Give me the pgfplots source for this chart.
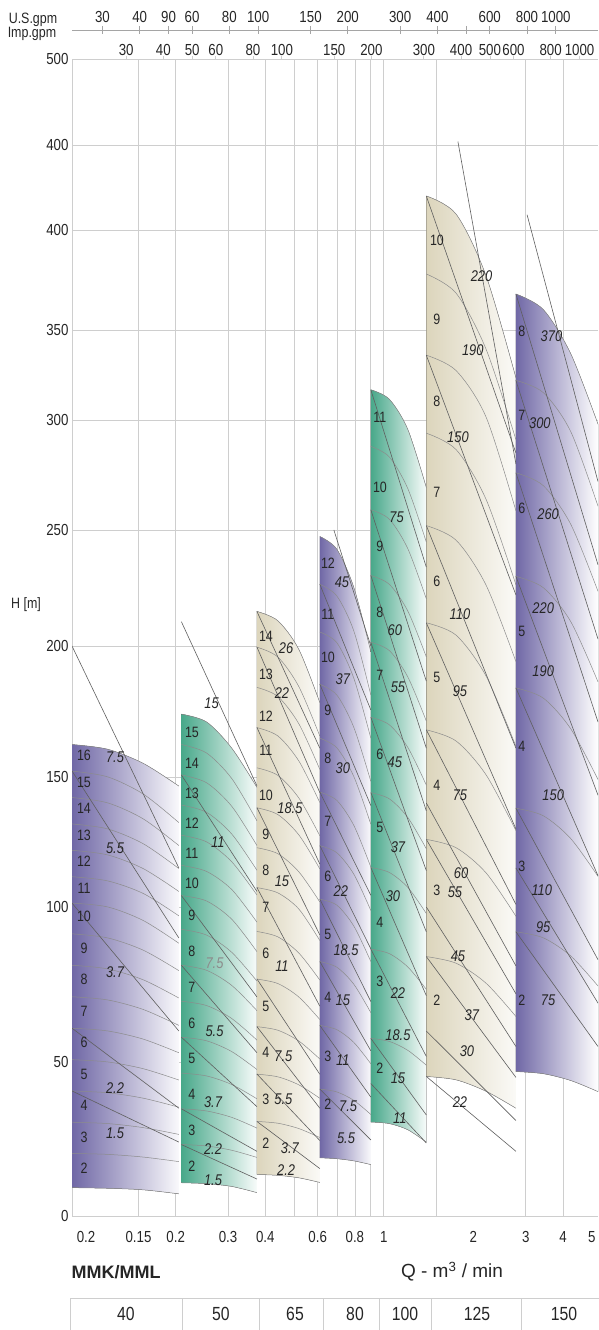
\documentclass[border=0pt]{standalone}
\usepackage{fontspec}
\setmainfont{Liberation Sans}[FakeStretch=0.83]
\newfontfamily\plainsans{Liberation Sans}
\usepackage{pgfplots}
\pgfplotsset{compat=1.18}
\usepgfplotslibrary{fillbetween}

\definecolor{pur}{RGB}{112,104,166}
\definecolor{grn}{RGB}{72,168,138}
\definecolor{bei}{RGB}{220,213,188}
\definecolor{gridc}{RGB}{206,206,206}
\definecolor{labc}{RGB}{38,38,38}
\definecolor{crv}{RGB}{140,140,140}
\definecolor{pwc}{RGB}{95,95,95}

\pgfplotsset{
  stg/.style={smooth, no markers, draw=crv, line width=0.5pt},
  pw/.style={no markers, draw=pwc, line width=0.6pt},
  % the H axis of the original is broken: H [m] is mapped piecewise onto the drawn height
  hscale/.style={
    y filter/.code={\pgfmathparse{##1<50?##1*3.08:(##1<100?154+(##1-50)*3.1:(##1<150?309+(##1-100)*2.6:(##1<200?439+(##1-150)*2.62:(##1<250?570+(##1-200)*2.32:(##1<300?686+(##1-250)*2.2:(##1<350?796+(##1-300)*1.8:(##1<400?886+(##1-350)*2:(##1<450?986+(##1-400)*1.7:1071+(##1-450)*1.72))))))))}},
  },
}

\begin{document}
\begin{tikzpicture}[x=1pt,y=1pt]

\begin{axis}[
  at={(0pt,0pt)}, anchor=south west,
  scale only axis, width=526pt, height=1157pt,
  set layers,
  hscale,
  xmode=log, xmin=0.0897, xmax=5.245,
  ymin=0, ymax=1157,
  axis lines*=left,
  axis line style={draw=gridc, line width=0.8pt, -},
  xtick={0.1,0.15,0.2,0.3,0.4,0.6,0.8,1,2,3,4,5},
  xticklabels={0.2,0.15,0.2,0.3,0.4,0.6,0.8,1,2,3,4,5},
  extra x ticks={0.15,0.2,0.3,0.4,0.5,0.6,0.7,0.8,0.9,1,1.5,3,4},
  extra x tick labels={,,,,,,,,,,,,},
  extra x tick style={grid=major},
  ytick={0,154,309,439,570,686,796,886,986,1071,1157},
  yticklabels={0,50,100,150,200,250,300,350,400,400,500},
  ymajorgrids,
  grid style={draw=gridc, line width=0.7pt},
  major tick length=0pt, xminorticks=false,
  tick label style={font=\fontsize{16}{16}\selectfont, text=labc},
  xticklabel style={yshift=-12pt},
  every node near coord/.style={anchor=center, text=labc},
]

% ---- 40 ----
\addplot[stg, name path=a1] coordinates {(0.0897,9.2)(0.11815,9.0)(0.15563,8.5)(0.205,7.2)};
\addplot[stg, name path=a16] coordinates {(0.0897,162.4)(0.11815,160.6)(0.15563,155.2)(0.205,146.5)};
\addplot[left color=pur, right color=pur!4, draw=none] fill between[of=a16 and a1];
\addplot[stg] coordinates {(0.0897,20.3)(0.11815,20.01)(0.15563,19.13)(0.205,17.66)};
\addplot[stg] coordinates {(0.0897,30.45)(0.11815,30.01)(0.15563,28.69)(0.205,26.49)};
\addplot[stg] coordinates {(0.0897,40.6)(0.11815,40.01)(0.15563,38.25)(0.205,35.32)};
\addplot[stg] coordinates {(0.0897,50.75)(0.11815,50.02)(0.15563,47.82)(0.205,44.15)};
\addplot[stg] coordinates {(0.0897,60.9)(0.11815,60.02)(0.15563,57.38)(0.205,52.98)};
\addplot[stg] coordinates {(0.0897,71.05)(0.11815,70.02)(0.15563,66.94)(0.205,61.81)};
\addplot[stg] coordinates {(0.0897,81.2)(0.11815,80.03)(0.15563,76.51)(0.205,70.64)};
\addplot[stg] coordinates {(0.0897,91.35)(0.11815,90.03)(0.15563,86.07)(0.205,79.47)};
\addplot[stg] coordinates {(0.0897,101.5)(0.11815,100.03)(0.15563,95.64)(0.205,88.31)};
\addplot[stg] coordinates {(0.0897,111.65)(0.11815,110.04)(0.15563,105.2)(0.205,97.14)};
\addplot[stg] coordinates {(0.0897,121.8)(0.11815,120.04)(0.15563,114.76)(0.205,105.97)};
\addplot[stg] coordinates {(0.0897,131.95)(0.11815,130.04)(0.15563,124.33)(0.205,114.8)};
\addplot[stg] coordinates {(0.0897,142.1)(0.11815,140.05)(0.15563,133.89)(0.205,123.63)};
\addplot[stg] coordinates {(0.0897,152.25)(0.11815,150.05)(0.15563,143.45)(0.205,132.46)};

% ---- 50 ----
\addplot[stg, name path=b1] coordinates {(0.209,10.8)(0.254,10.5)(0.3086,9.6)(0.375,7.6)};
\addplot[stg, name path=b15] coordinates {(0.209,174)(0.254,171)(0.3086,161)(0.375,146)};
\addplot[left color=grn, right color=grn!4, draw=none] fill between[of=b15 and b1];
\addplot[stg] coordinates {(0.209,23.2)(0.254,22.74)(0.3086,21.34)(0.375,19.02)};
\addplot[stg] coordinates {(0.209,34.8)(0.254,34.1)(0.3086,32.02)(0.375,28.54)};
\addplot[stg] coordinates {(0.209,46.4)(0.254,45.47)(0.3086,42.69)(0.375,38.05)};
\addplot[stg] coordinates {(0.209,58)(0.254,56.84)(0.3086,53.36)(0.375,47.56)};
\addplot[stg] coordinates {(0.209,69.6)(0.254,68.21)(0.3086,64.03)(0.375,57.07)};
\addplot[stg] coordinates {(0.209,81.2)(0.254,79.58)(0.3086,74.7)(0.375,66.58)};
\addplot[stg] coordinates {(0.209,92.8)(0.254,90.94)(0.3086,85.38)(0.375,76.1)};
\addplot[stg] coordinates {(0.209,104.4)(0.254,102.31)(0.3086,96.05)(0.375,85.61)};
\addplot[stg] coordinates {(0.209,116)(0.254,113.68)(0.3086,106.72)(0.375,95.12)};
\addplot[stg] coordinates {(0.209,127.6)(0.254,125.05)(0.3086,117.39)(0.375,104.63)};
\addplot[stg] coordinates {(0.209,139.2)(0.254,136.42)(0.3086,128.06)(0.375,114.14)};
\addplot[stg] coordinates {(0.209,150.8)(0.254,147.78)(0.3086,138.74)(0.375,123.66)};
\addplot[stg] coordinates {(0.209,162.4)(0.254,159.15)(0.3086,149.41)(0.375,133.17)};

% ---- 65 ----
\addplot[stg, name path=c1] coordinates {(0.375,13.5)(0.441,13.2)(0.5187,12.4)(0.61,10.9)};
\addplot[stg, name path=c14] coordinates {(0.375,214.9)(0.441,210.84)(0.5187,198.66)(0.61,178.37)};
\addplot[left color=bei, right color=bei!12, draw=none] fill between[of=c14 and c1];
\addplot[stg] coordinates {(0.375,30.7)(0.441,30.12)(0.5187,28.38)(0.61,25.48)};
\addplot[stg] coordinates {(0.375,46.05)(0.441,45.18)(0.5187,42.57)(0.61,38.22)};
\addplot[stg] coordinates {(0.375,61.4)(0.441,60.24)(0.5187,56.76)(0.61,50.96)};
\addplot[stg] coordinates {(0.375,76.75)(0.441,75.3)(0.5187,70.95)(0.61,63.7)};
\addplot[stg] coordinates {(0.375,92.1)(0.441,90.36)(0.5187,85.14)(0.61,76.44)};
\addplot[stg] coordinates {(0.375,107.45)(0.441,105.42)(0.5187,99.33)(0.61,89.18)};
\addplot[stg] coordinates {(0.375,122.8)(0.441,120.48)(0.5187,113.52)(0.61,101.92)};
\addplot[stg] coordinates {(0.375,138.15)(0.441,135.54)(0.5187,127.71)(0.61,114.66)};
\addplot[stg] coordinates {(0.375,153.5)(0.441,150.6)(0.5187,141.9)(0.61,127.41)};
\addplot[stg] coordinates {(0.375,168.85)(0.441,165.66)(0.5187,156.09)(0.61,140.15)};
\addplot[stg] coordinates {(0.375,184.2)(0.441,180.72)(0.5187,170.28)(0.61,152.89)};
\addplot[stg] coordinates {(0.375,199.55)(0.441,195.78)(0.5187,184.47)(0.61,165.63)};

% ---- 80 ----
\addplot[stg, name path=d1] coordinates {(0.61,18.9)(0.6957,18.6)(0.7935,17.9)(0.905,16.7)};
\addplot[stg, name path=d12] coordinates {(0.61,247.2)(0.6957,241.71)(0.7935,225.23)(0.905,197.76)};
\addplot[left color=pur, right color=pur!4, draw=none] fill between[of=d12 and d1];
\addplot[stg] coordinates {(0.61,41.2)(0.6957,40.28)(0.7935,37.54)(0.905,32.96)};
\addplot[stg] coordinates {(0.61,61.8)(0.6957,60.43)(0.7935,56.31)(0.905,49.44)};
\addplot[stg] coordinates {(0.61,82.4)(0.6957,80.57)(0.7935,75.08)(0.905,65.92)};
\addplot[stg] coordinates {(0.61,103)(0.6957,100.71)(0.7935,93.84)(0.905,82.4)};
\addplot[stg] coordinates {(0.61,123.6)(0.6957,120.85)(0.7935,112.61)(0.905,98.88)};
\addplot[stg] coordinates {(0.61,144.2)(0.6957,141)(0.7935,131.38)(0.905,115.36)};
\addplot[stg] coordinates {(0.61,164.8)(0.6957,161.14)(0.7935,150.15)(0.905,131.84)};
\addplot[stg] coordinates {(0.61,185.4)(0.6957,181.28)(0.7935,168.92)(0.905,148.32)};
\addplot[stg] coordinates {(0.61,206)(0.6957,201.42)(0.7935,187.69)(0.905,164.8)};
\addplot[stg] coordinates {(0.61,226.6)(0.6957,221.56)(0.7935,206.46)(0.905,181.28)};

% ---- 100 ----
\addplot[stg, name path=e1] coordinates {(0.905,30.5)(1.0442,30)(1.2048,28)(1.39,24)};
\addplot[stg, name path=e11] coordinates {(0.905,316.8)(1.0442,311.52)(1.2048,295.68)(1.39,269.28)};
\addplot[left color=grn, right color=grn!4, draw=none] fill between[of=e11 and e1];
\addplot[stg] coordinates {(0.905,57.6)(1.0442,56.64)(1.2048,53.76)(1.39,48.96)};
\addplot[stg] coordinates {(0.905,86.4)(1.0442,84.96)(1.2048,80.64)(1.39,73.44)};
\addplot[stg] coordinates {(0.905,115.2)(1.0442,113.28)(1.2048,107.52)(1.39,97.92)};
\addplot[stg] coordinates {(0.905,144)(1.0442,141.6)(1.2048,134.4)(1.39,122.4)};
\addplot[stg] coordinates {(0.905,172.8)(1.0442,169.92)(1.2048,161.28)(1.39,146.88)};
\addplot[stg] coordinates {(0.905,201.6)(1.0442,198.24)(1.2048,188.16)(1.39,171.36)};
\addplot[stg] coordinates {(0.905,230.4)(1.0442,226.56)(1.2048,215.04)(1.39,195.84)};
\addplot[stg] coordinates {(0.905,259.2)(1.0442,254.88)(1.2048,241.92)(1.39,220.32)};
\addplot[stg] coordinates {(0.905,288)(1.0442,283.2)(1.2048,268.8)(1.39,244.8)};

% ---- 125 ----
\addplot[stg, name path=f1] coordinates {(1.39,45.3)(1.7513,44.2)(2.2065,40.5)(2.78,35)};
\addplot[stg, name path=f10] coordinates {(1.39,420)(1.7513,409.26)(2.2065,377.07)(2.78,323.4)};
\addplot[left color=bei, right color=bei!12, draw=none] fill between[of=f10 and f1];
\addplot[stg] coordinates {(1.39,84)(1.7513,81.85)(2.2065,75.41)(2.78,64.68)};
\addplot[stg] coordinates {(1.39,126)(1.7513,122.78)(2.2065,113.12)(2.78,97.02)};
\addplot[stg] coordinates {(1.39,168)(1.7513,163.71)(2.2065,150.83)(2.78,129.36)};
\addplot[stg] coordinates {(1.39,210)(1.7513,204.63)(2.2065,188.53)(2.78,161.7)};
\addplot[stg] coordinates {(1.39,252)(1.7513,245.56)(2.2065,226.24)(2.78,194.04)};
\addplot[stg] coordinates {(1.39,294)(1.7513,286.49)(2.2065,263.95)(2.78,226.38)};
\addplot[stg] coordinates {(1.39,336)(1.7513,327.41)(2.2065,301.65)(2.78,258.72)};
\addplot[stg] coordinates {(1.39,378)(1.7513,368.34)(2.2065,339.36)(2.78,291.06)};

% ---- 150 ----
\addplot[stg, name path=g1] coordinates {(2.78,46.9)(3.4352,46.2)(4.2449,44)(5.245,40.4)};
\addplot[stg, name path=g8] coordinates {(2.78,368)(3.4352,360.23)(4.2449,336.93)(5.245,298.08)};
\addplot[left color=pur, right color=white, draw=none] fill between[of=g8 and g1];
\addplot[stg] coordinates {(2.78,92)(3.4352,90.06)(4.2449,84.23)(5.245,74.52)};
\addplot[stg] coordinates {(2.78,138)(3.4352,135.09)(4.2449,126.35)(5.245,111.78)};
\addplot[stg] coordinates {(2.78,184)(3.4352,180.12)(4.2449,168.46)(5.245,149.04)};
\addplot[stg] coordinates {(2.78,230)(3.4352,225.14)(4.2449,210.58)(5.245,186.3)};
\addplot[stg] coordinates {(2.78,276)(3.4352,270.17)(4.2449,252.69)(5.245,223.56)};
\addplot[stg] coordinates {(2.78,322)(3.4352,315.2)(4.2449,294.81)(5.245,260.82)};

% ---- power lines (kW) ----
\addplot[pw] coordinates {(0.0897,200)(0.205,115)};
\addplot[pw] coordinates {(0.0897,152.3)(0.205,90)};
\addplot[pw] coordinates {(0.0897,101.5)(0.205,60)};
\addplot[pw] coordinates {(0.0897,60.9)(0.205,35)};
\addplot[pw] coordinates {(0.0897,40.6)(0.205,24)};

\addplot[pw] coordinates {(0.209,210.5)(0.375,146.6)};
\addplot[pw] coordinates {(0.209,150.8)(0.375,106)};
\addplot[pw] coordinates {(0.209,104.4)(0.375,71)};
\addplot[pw] coordinates {(0.209,81.2)(0.375,53)};
\addplot[pw] coordinates {(0.209,58)(0.375,35.5)};
\addplot[pw] coordinates {(0.209,34.8)(0.375,21)};
\addplot[pw] coordinates {(0.209,23.2)(0.375,12)};

\addplot[pw] coordinates {(0.375,214.9)(0.61,161)};
\addplot[pw] coordinates {(0.375,199.6)(0.61,144)};
\addplot[pw] coordinates {(0.375,168.9)(0.61,116.5)};
\addplot[pw] coordinates {(0.375,138.2)(0.61,91)};
\addplot[pw] coordinates {(0.375,107.5)(0.61,68)};
\addplot[pw] coordinates {(0.375,76.8)(0.61,46)};
\addplot[pw] coordinates {(0.375,61.4)(0.61,35)};
\addplot[pw] coordinates {(0.375,46.1)(0.61,24.5)};
\addplot[pw] coordinates {(0.375,30.7)(0.61,15.4)};

\addplot[pw] coordinates {(0.68,250)(0.905,200)};
\addplot[pw] coordinates {(0.61,226.6)(0.905,175.6)};
\addplot[pw] coordinates {(0.61,185.4)(0.905,139)};
\addplot[pw] coordinates {(0.61,144.2)(0.905,104.5)};
\addplot[pw] coordinates {(0.61,123.6)(0.905,86.5)};
\addplot[pw] coordinates {(0.61,103)(0.905,69.5)};
\addplot[pw] coordinates {(0.61,82.4)(0.905,53.6)};
\addplot[pw] coordinates {(0.61,61.8)(0.905,38.6)};
\addplot[pw] coordinates {(0.61,41.2)(0.905,24.7)};

\addplot[pw] coordinates {(0.905,316.8)(1.39,234)};
\addplot[pw] coordinates {(0.905,259.2)(1.39,186.6)};
\addplot[pw] coordinates {(0.905,230.4)(1.39,161)};
\addplot[pw] coordinates {(0.905,201.6)(1.39,137)};
\addplot[pw] coordinates {(0.905,172.8)(1.39,114)};
\addplot[pw] coordinates {(0.905,144)(1.39,92)};
\addplot[pw] coordinates {(0.905,115.2)(1.39,71.4)};
\addplot[pw] coordinates {(0.905,86.4)(1.39,51.8)};
\addplot[pw] coordinates {(0.905,57.6)(1.39,32.8)};
\addplot[pw] coordinates {(0.905,43)(1.39,23.7)};

\addplot[pw] coordinates {(1.775,452)(2.78,280)};
\addplot[pw] coordinates {(1.39,420)(2.78,285)};
\addplot[pw] coordinates {(1.39,336)(2.78,222)};
\addplot[pw] coordinates {(1.39,252)(2.78,161)};
\addplot[pw] coordinates {(1.39,210)(2.78,130)};
\addplot[pw] coordinates {(1.39,168)(2.78,101)};
\addplot[pw] coordinates {(1.39,140)(2.78,81)};
\addplot[pw] coordinates {(1.39,126)(2.78,72)};
\addplot[pw] coordinates {(1.39,100)(2.78,55)};
\addplot[pw] coordinates {(1.39,84)(2.78,45)};
\addplot[pw] coordinates {(1.39,60)(2.78,31)};
\addplot[pw] coordinates {(1.39,45.3)(2.78,21)};

\addplot[pw] coordinates {(3.03,409)(5.245,272)};
\addplot[pw] coordinates {(2.78,368)(5.245,235)};
\addplot[pw] coordinates {(2.78,322)(5.245,203)};
\addplot[pw] coordinates {(2.78,276)(5.245,171)};
\addplot[pw] coordinates {(2.78,230)(5.245,143)};
\addplot[pw] coordinates {(2.78,184)(5.245,112)};
\addplot[pw] coordinates {(2.78,138)(5.245,83)};
\addplot[pw] coordinates {(2.78,115)(5.245,69)};
\addplot[pw] coordinates {(2.78,92)(5.245,55)};

% ---- stage numbers ----
\addplot[draw=none, nodes near coords, point meta=explicit symbolic,
  every node near coord/.append style={font=\fontsize{15}{15}\selectfont}]
  table[x=q, y=h, meta=t, row sep=\\] {
q h t\\
0.0984 158.2 16\\ 0.0984 148 15\\ 0.0984 137.8 14\\ 0.0984 127.6 13\\
0.0984 117.4 12\\ 0.0984 107.2 11\\ 0.0984 97 10\\ 0.0984 86.8 9\\
0.0984 76.6 8\\ 0.0984 66.4 7\\ 0.0984 56.2 6\\ 0.0984 46 5\\
0.0984 35.8 4\\ 0.0984 25.6 3\\ 0.0984 15.4 2\\
0.2268 167 15\\ 0.2268 155.4 14\\ 0.2268 143.8 13\\ 0.2268 132.2 12\\
0.2268 120.6 11\\ 0.2268 109 10\\ 0.2268 97.4 9\\ 0.2268 85.8 8\\
0.2268 74.2 7\\ 0.2268 62.6 6\\ 0.2268 51 5\\ 0.2268 39.4 4\\
0.2268 27.8 3\\ 0.2268 16.2 2\\
0.402 204 14\\ 0.402 189 13\\ 0.402 173 12\\ 0.402 160 11\\
0.402 143 10\\ 0.402 128 9\\ 0.402 114 8\\ 0.402 100 7\\
0.402 85 6\\ 0.402 68 5\\ 0.402 53 4\\ 0.402 38 3\\ 0.402 23.5 2\\
0.6495 235.5 12\\ 0.6495 213.5 11\\ 0.6495 195.8 10\\ 0.6495 175.3 9\\
0.6495 157.3 8\\ 0.6495 133 7\\ 0.6495 111.7 6\\ 0.6495 91.3 5\\
0.6495 71 4\\ 0.6495 51.8 3\\ 0.6495 36.4 2\\
0.971 301.4 11\\ 0.971 269.5 10\\ 0.971 243 9\\ 0.971 214.7 8\\
0.971 188.9 7\\ 0.971 158.8 6\\ 0.971 130.8 5\\ 0.971 95.2 4\\
0.971 76.1 3\\ 0.971 48 2\\
1.509 394.6 10\\ 1.509 355.5 9\\ 1.509 310.6 8\\ 1.509 267 7\\
1.509 227.7 6\\ 1.509 188 5\\ 1.509 146.6 4\\ 1.509 106.3 3\\ 1.509 69.8 2\\
2.912 349.1 8\\ 2.912 302.4 7\\ 2.912 259.7 6\\ 2.912 206.1 5\\
2.912 161.6 4\\ 2.912 115.5 3\\ 2.912 70 2\\
};

% ---- motor power labels ----
\addplot[draw=none, nodes near coords, point meta=explicit symbolic,
  every node near coord/.append style={font=\itshape\fontsize{15.5}{15.5}\selectfont}]
  table[x=q, y=h, meta=t, row sep=\\] {
q h t\\
0.1251 157.5 7.5\\ 0.1251 122.5 5.5\\ 0.1251 79 3.7\\ 0.1251 41.5 2.2\\ 0.1251 27 1.5\\
0.264 178 15\\ 0.277 125 11\\ 0.267 37 3.7\\ 0.27 60 5.5\\ 0.267 21.6 2.2\\ 0.267 11.7 1.5\\
0.47 199 26\\ 0.455 182 22\\ 0.484 138 18.5\\ 0.455 110 15\\ 0.455 81 11\\
0.46 52 7.5\\ 0.46 38 5.5\\ 0.484 22 3.7\\ 0.47 15 2.2\\
0.724 227.6 45\\ 0.729 187.4 37\\ 0.729 153.4 30\\ 0.718 106.3 22\\ 0.747 86.1 18.5\\
0.729 70 15\\ 0.729 50.5 11\\ 0.759 35.7 7.5\\ 0.747 25.3 5.5\\
1.105 255.7 75\\ 1.09 207 60\\ 1.116 184.4 55\\ 1.09 155.7 45\\ 1.116 123 37\\
1.074 104.2 30\\ 1.116 72.3 22\\ 1.116 58.7 18.5\\ 1.116 44.8 15\\ 1.133 31.8 11\\
2.131 376.8 220\\ 1.992 339 190\\ 1.776 292.3 150\\ 1.803 213.8 110\\ 1.803 182.8 95\\
1.803 142.9 75\\ 1.818 113.2 60\\ 1.735 105.6 55\\ 1.776 84 45\\ 1.977 65.2 37\\
1.903 53.5 30\\ 1.803 37 22\\
3.659 346.5 370\\ 3.345 298.4 300\\ 3.567 257.3 260\\ 3.433 216.1 220\\ 3.433 190.5 190\\
3.709 142.9 150\\ 3.395 106.5 110\\ 3.433 93.6 95\\ 3.567 70 75\\
};
% the 7.5 of the 50 group is printed lighter
\addplot[draw=none, nodes near coords, point meta=explicit symbolic,
  every node near coord/.append style={font=\itshape\fontsize{15.5}{15.5}\selectfont, text=black!45}]
  table[x=q, y=h, meta=t, row sep=\\] {
q h t\\
0.27 82 7.5\\
};
\end{axis}

% Imp.gpm scale along the top of the chart
\begin{axis}[
  at={(0pt,0pt)}, anchor=south west,
  scale only axis, width=526pt, height=1157pt,
  xmode=log, xmin=19.731, xmax=1153.7, ymin=0, ymax=1,
  axis x line*=top, hide y axis,
  axis line style={draw=gridc, line width=0.8pt, -},
  xtick={30,40,50,60,80,100,150,200,300,400,500,600,800,1000},
  xticklabels={30,40,50,60,80,100,150,200,300,400,500,600,800,1000},
  xtick align=outside, major tick length=3pt, xminorticks=false,
  tick style={draw=gridc, line width=0.8pt},
  tick label style={font=\fontsize{16}{16}\selectfont, text=labc},
  xticklabel style={yshift=-3pt},
]
\addplot[draw=none] coordinates {(100,0.5)};
\end{axis}

% U.S.gpm scale
\begin{axis}[
  at={(0pt,1186pt)}, anchor=north west,
  scale only axis, width=526pt, height=10pt,
  xmode=log, xmin=23.696, xmax=1385.6, ymin=0, ymax=1,
  axis x line*=top, hide y axis,
  axis line style={draw=gridc!80!black, line width=0.8pt, -},
  xtick={30,40,50,60,80,100,150,200,300,400,500,600,800,1000},
  xticklabels={30,40,90,60,80,100,150,200,300,400,,600,800,1000},
  xtick align=center, major tick length=8pt, xminorticks=false,
  tick style={draw=gridc!80!black, line width=0.8pt},
  tick label style={font=\fontsize{16}{16}\selectfont, text=labc},
  xticklabel style={yshift=0pt},
]
\addplot[draw=none] coordinates {(100,0.5)};
\end{axis}

\node[font=\fontsize{15}{15}\selectfont, text=labc] at (-39,1196) {U.S.gpm};
\node[font=\fontsize{15}{15}\selectfont, text=labc] at (-40,1182) {Imp.gpm};
\node[font=\fontsize{15}{15}\selectfont, text=labc] at (-46,611) {H [m]};

\node[anchor=west, font=\plainsans\bfseries\fontsize{18}{18}\selectfont, text=labc] at (-4,-56) {MMK/MML};
\node[font=\plainsans\fontsize{19}{19}\selectfont, text=labc] at (380,-56) {Q - m\textsuperscript{3} / min};

\draw[gridc, line width=0.9pt] (-2,-116) -- (-2,-82) -- (528,-82);
\foreach \x in {110,187,251,307,359,449}
  \draw[gridc, line width=0.9pt] (\x,-82) -- (\x,-116);
\foreach \x/\t in {54/40,149/50,223/65,283/80,333/100,405/125,492/150}
  \node[font=\fontsize{19}{19}\selectfont, text=labc] at (\x,-98) {\t};

\pgfresetboundingbox
\useasboundingbox (-72,-114) rectangle (526,1216);
\end{tikzpicture}
\end{document}
